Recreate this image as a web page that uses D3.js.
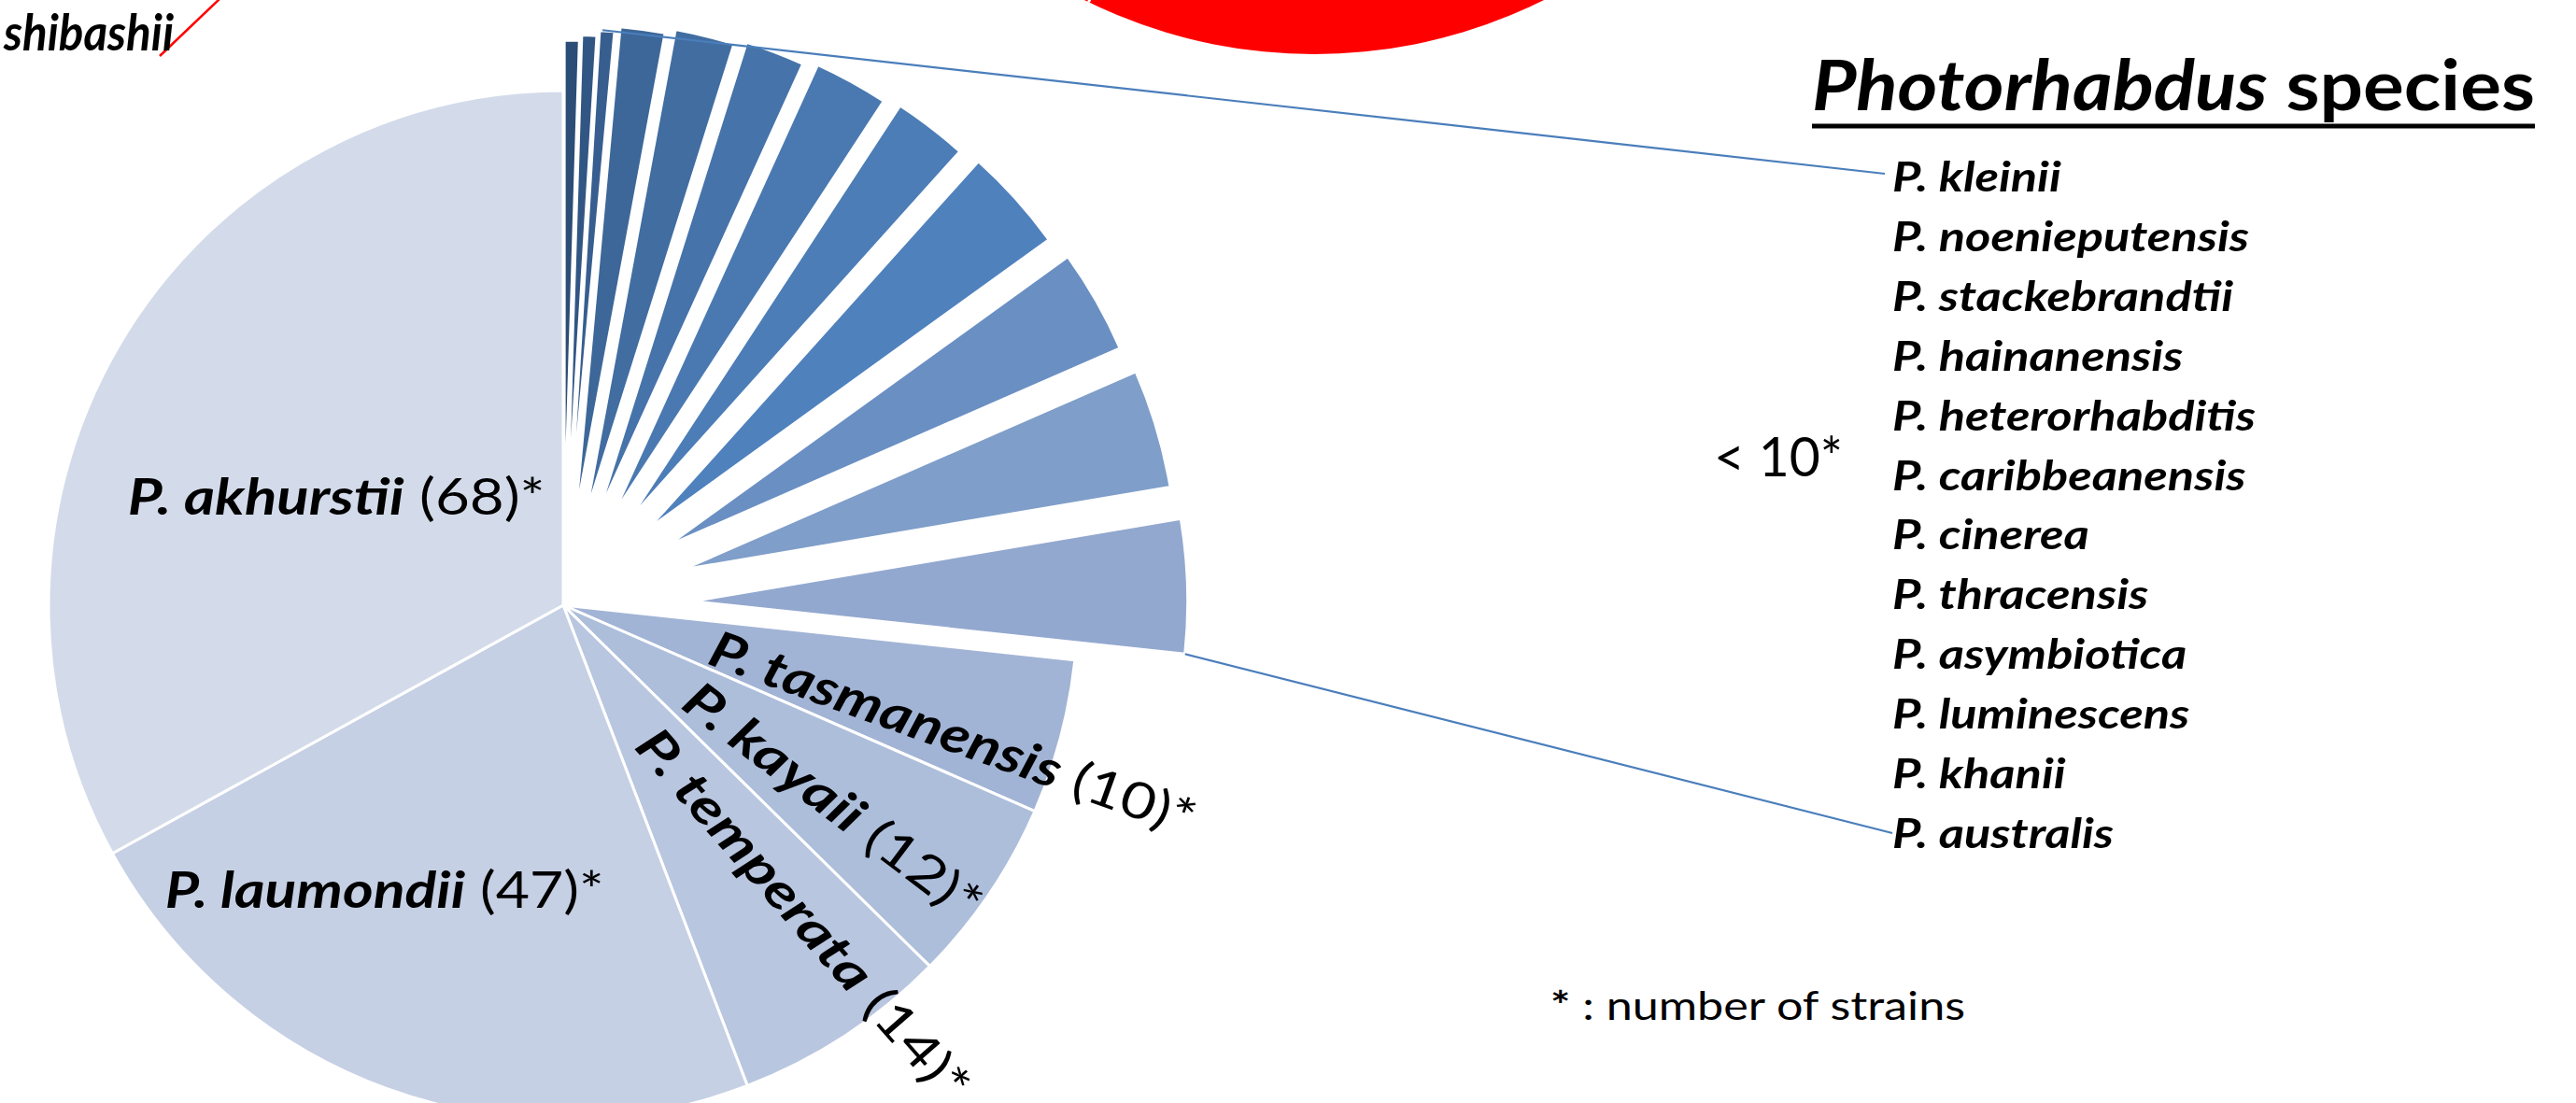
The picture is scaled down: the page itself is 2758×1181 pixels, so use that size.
<!DOCTYPE html>
<html lang="en">
<head>
<meta charset="UTF-8">
<title>Photorhabdus species</title>
<script src="https://d3js.org/d3.v7.min.js"></script>
<style>
  body { margin: 0; background: #fff; }
  svg { display: block; font-family: Lato, "Open Sans", sans-serif; }
  .sp { font-weight: 700; font-style: italic; }
  .num { font-weight: 400; font-style: normal; }
</style>
</head>
<body>
<svg id="chart"></svg>
<script>
// species with fewer than 10 strains, in pie order (clockwise from 12 o'clock)
const smallSpecies = ["P. kleinii", "P. noenieputensis", "P. stackebrandtii", "P. hainanensis",
  "P. heterorhabditis", "P. caribbeanensis", "P. cinerea", "P. thracensis",
  "P. asymbiotica", "P. luminescens", "P. khanii", "P. australis"];
const smallCounts = [1, 1, 1, 3, 4, 4, 5, 5, 7, 7, 8, 9];

// labelled species
const bigSpecies = ["P. tasmanensis", "P. kayaii", "P. temperata", "P. laumondii", "P. akhurstii"];
const bigCounts = [10, 12, 14, 47, 68];

const titleWords = ["Photorhabdus", " species"];
const groupLabel = "< 10*";
const footnote = ["*", " : number of strains"];
const neighbourLabel = "shibashii";

// colours
const smallColors = ["#2c4d75", "#325684", "#375e8f", "#3d6798", "#416da1", "#4673a9",
  "#4a79b1", "#4c7db7", "#4f81bd", "#6a8fc3", "#7f9ec9", "#93a8cf"];
const bigColors = ["#a2b4d5", "#adbedb", "#b9c6e0", "#c6d0e4", "#d3dbea"];
const leaderColor = "#4a7ebb";

const W = 2758, H = 1181;
const cx = 603, cy = 648, R = 551, Rsmall = 530;

const svg = d3.select("#chart").attr("width", W).attr("height", H);
svg.append("rect").attr("width", W).attr("height", H).attr("fill", "#fff");

// neighbouring (red) pie, cut by the top edge
const red = svg.append("g").attr("transform", `translate(1407,-493)`);
red.append("path")
  .attr("d", d3.arc().innerRadius(0).outerRadius(R)({ startAngle: 0, endAngle: 2 * Math.PI }))
  .attr("fill", "#ff0000");
const a206 = 206 * Math.PI / 180;
red.append("line")
  .attr("x1", 0).attr("y1", 0)
  .attr("x2", R * Math.sin(a206)).attr("y2", -R * Math.cos(a206))
  .attr("stroke", "#fff").attr("stroke-width", 3);

svg.append("line")
  .attr("x1", 171).attr("y1", 60).attr("x2", 236).attr("y2", -2)
  .attr("stroke", "#ff0000").attr("stroke-width", 2.5);

svg.append("text")
  .attr("class", "sp")
  .attr("x", 4).attr("y", 54)
  .text(neighbourLabel)
  .call(squeeze, 54, 182);

// main pie
const slices = smallSpecies.map((s, i) => ({ name: s, value: smallCounts[i], small: true, idx: i, color: smallColors[i] }))
  .concat(bigSpecies.map((s, i) => ({ name: s, value: bigCounts[i], small: false, idx: i, color: bigColors[i] })));

const pie = d3.pie().sort(null).value(d => d.value);
const arcs = pie(slices);

const arc = d3.arc().innerRadius(0).outerRadius(d => d.data.small ? Rsmall : R);
const explode = d => d.data.small ? 75 + 5.8 * d.data.idx : 0;
const mid = d => (d.startAngle + d.endAngle) / 2;
const shift = d => [explode(d) * Math.sin(mid(d)), -explode(d) * Math.cos(mid(d))];

const g = svg.append("g").attr("transform", `translate(${cx},${cy})`);

g.selectAll("path.slice")
  .data(arcs)
  .join("path")
  .attr("class", "slice")
  .attr("transform", d => `translate(${shift(d)})`)
  .attr("d", arc)
  .attr("fill", d => d.data.color)
  .attr("stroke", "#fff")
  .attr("stroke-width", 3)
  .attr("stroke-linejoin", "round");

// labels on the big slices
const flatLabels = { "P. akhurstii": [295.9, 0.49], "P. laumondii": [212.3, 0.65] };
const tilt = { "P. tasmanensis": 5, "P. kayaii": 3, "P. temperata": -8 };
const labelLen = { "P. akhurstii": 447, "P. laumondii": 470, "P. tasmanensis": 549, "P. kayaii": 384, "P. temperata": 510 };

const labels = g.selectAll("text.lab")
  .data(arcs.filter(d => !d.data.small))
  .join("text")
  .attr("class", "lab");

labels.append("tspan").attr("class", "sp").text(d => d.data.name);
labels.append("tspan").attr("class", "num").text(d => ` (${d.data.value})*`);

labels.each(function (d) {
  const t = d3.select(this);
  squeeze(t, 54, labelLen[d.data.name]);
  if (flatLabels[d.data.name]) {
    const [deg, f] = flatLabels[d.data.name];
    const a = deg * Math.PI / 180;
    t.attr("text-anchor", "middle")
      .attr("dominant-baseline", "central")
      .attr("x", f * R * Math.sin(a))
      .attr("y", -f * R * Math.cos(a));
  } else {
    const m = mid(d);
    const r0 = 0.3 * R;
    const rot = m * 180 / Math.PI - 90 + (tilt[d.data.name] || 0);
    t.attr("text-anchor", "start")
      .attr("dominant-baseline", "central")
      .attr("transform", `translate(${r0 * Math.sin(m)},${-r0 * Math.cos(m)}) rotate(${rot})`);
  }
});

// leader lines from the exploded group to the list
function outerCorner(d, which) {
  const [dx, dy] = shift(d);
  const a = which === "end" ? d.endAngle : d.startAngle;
  return [cx + dx + Rsmall * Math.sin(a), cy + dy - Rsmall * Math.cos(a)];
}
const first = arcs[1], last = arcs[smallSpecies.length - 1];
const p0 = outerCorner(first, "end");
const p1 = outerCorner(last, "end");

svg.append("line")
  .attr("x1", p0[0] + 6).attr("y1", p0[1] - 6)
  .attr("x2", 2018).attr("y2", 186)
  .attr("stroke", leaderColor).attr("stroke-width", 2.2);
svg.append("line")
  .attr("x1", p1[0]).attr("y1", p1[1])
  .attr("x2", 2026).attr("y2", 892)
  .attr("stroke", leaderColor).attr("stroke-width", 2.2);

// title
const title = svg.append("text")
  .attr("x", 1940).attr("y", 118);
title.append("tspan").attr("class", "sp").text(titleWords[0]);
title.append("tspan").style("font-weight", 700).text(titleWords[1]);
title.call(squeeze, 74, 774);
svg.append("line")
  .attr("x1", 1940).attr("x2", 1940 + 774)
  .attr("y1", 135).attr("y2", 135)
  .attr("stroke", "#000").attr("stroke-width", 5);

// list of small species
const list = svg.selectAll("text.item")
  .data(smallSpecies)
  .join("text")
  .attr("class", "item sp")
  .attr("x", 2026)
  .attr("y", (d, i) => 205 + i * 63.9)
  .style("font-size", "44px")
  .text(d => d);
// shared horizontal squeeze, taken from the widest entry
const het = list.filter(d => d === "P. heterorhabditis");
const ratio = 389 / het.node().getComputedTextLength();
list.each(function () {
  const t = d3.select(this);
  t.attr("textLength", t.node().getComputedTextLength() * ratio)
    .attr("lengthAdjust", "spacingAndGlyphs");
});

svg.append("text")
  .attr("x", 1835).attr("y", 510)
  .text(groupLabel)
  .call(squeeze, 58, 138);

const foot = svg.append("text")
  .attr("x", 1660).attr("y", 1092);
foot.append("tspan").style("font-weight", 700).text(footnote[0]);
foot.append("tspan").text(footnote[1]);
foot.call(squeeze, 42, 444);

// set a font size, then narrow the text to the width it has in the picture
function squeeze(sel, size, width) {
  sel.style("font-size", size + "px")
    .attr("textLength", width)
    .attr("lengthAdjust", "spacingAndGlyphs");
}
</script>
</body>
</html>
